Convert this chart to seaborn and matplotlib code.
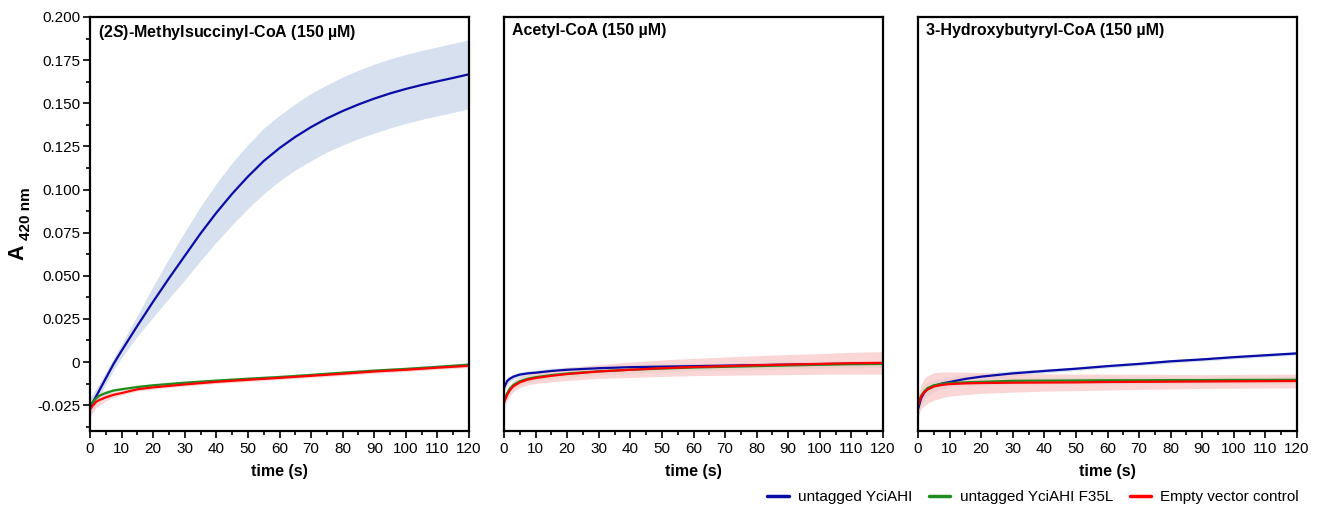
import numpy as np
import pandas as pd
import matplotlib
matplotlib.use('Agg')
import matplotlib.pyplot as plt
import seaborn as sns
from matplotlib.ticker import MultipleLocator, FuncFormatter

sns.set_style('ticks')
plt.rcParams['font.family'] = ['Liberation Sans', 'DejaVu Sans']
plt.rcParams['mathtext.fontset'] = 'custom'
plt.rcParams['mathtext.rm'] = 'Liberation Sans:bold'
plt.rcParams['mathtext.bf'] = 'Liberation Sans:bold'
plt.rcParams['mathtext.it'] = 'Liberation Sans:italic:bold'
for key in ['text.color', 'axes.labelcolor', 'xtick.color', 'ytick.color', 'axes.edgecolor']:
    plt.rcParams[key] = 'black'

# time points (s)
time = [0, 1, 2, 3, 5, 7.5, 10, 15, 20, 30, 40, 50, 60, 70, 80, 90, 100, 110, 120]
time_fine = [0, 1, 2, 3, 5, 7.5, 10, 15, 20, 25, 30, 35, 40, 45, 50, 55, 60, 65, 70,
             75, 80, 85, 90, 95, 100, 105, 110, 115, 120]

series_names = ['untagged YciAHI', 'untagged YciAHI F35L', 'Empty vector control']
series_colors = ['#0b0ba6', '#1e8c1e', '#ff0000']
band_colors = ['#c9d6ea', '#c9e3c9', '#f9c9c9']

panel_titles = [r'(2$\mathit{S}$)-Methylsuccinyl-CoA (150 µM)',
                'Acetyl-CoA (150 µM)',
                '3-Hydroxybutyryl-CoA (150 µM)']

# (2S)-Methylsuccinyl-CoA
msc_wt = [-0.0264, -0.023, -0.0197, -0.0163, -0.0095, -0.001, 0.0065, 0.021, 0.035, 0.0485,
          0.0615, 0.0745, 0.0865, 0.0975, 0.1075, 0.1165, 0.124, 0.1305, 0.1362, 0.1412,
          0.1455, 0.1493, 0.1527, 0.1557, 0.1583, 0.1606, 0.1627, 0.1647, 0.1668]
msc_wt_sd = [0.006, 0.005, 0.0045, 0.004, 0.0035, 0.0035, 0.004, 0.006, 0.009, 0.0115,
             0.014, 0.0157, 0.017, 0.018, 0.0185, 0.019, 0.019, 0.0192, 0.0195, 0.0195,
             0.0197, 0.0198, 0.02, 0.02, 0.02, 0.02, 0.02, 0.02, 0.02]
msc_f35l = [-0.025, -0.023, -0.021, -0.0195, -0.018, -0.0165, -0.0158, -0.0145, -0.0135, -0.012,
            -0.0108, -0.0097, -0.0087, -0.0075, -0.0062, -0.005, -0.004, -0.0028, -0.0015]
msc_f35l_sd = [0.003, 0.003, 0.002, 0.002, 0.0015, 0.001, 0.001, 0.001, 0.001, 0.001,
               0.001, 0.001, 0.001, 0.001, 0.001, 0.001, 0.001, 0.001, 0.001]
msc_ev = [-0.0275, -0.025, -0.023, -0.022, -0.0205, -0.019, -0.018, -0.0158, -0.0147, -0.013,
          -0.0115, -0.0103, -0.0092, -0.008, -0.0068, -0.0055, -0.0045, -0.0033, -0.0022]
msc_ev_sd = [0.004, 0.004, 0.003, 0.003, 0.002, 0.0015, 0.001, 0.001, 0.001, 0.001,
             0.001, 0.001, 0.001, 0.001, 0.001, 0.001, 0.001, 0.001, 0.001]

# Acetyl-CoA
ac_wt = [-0.015, -0.011, -0.0095, -0.0085, -0.0073, -0.0066, -0.0062, -0.0052, -0.0045, -0.0036,
         -0.003, -0.0027, -0.0024, -0.0021, -0.0018, -0.0015, -0.0012, -0.001, -0.0008]
ac_wt_sd = [0.002, 0.002, 0.0015, 0.0015, 0.0015, 0.0015, 0.0015, 0.0015, 0.0015, 0.0015,
            0.0015, 0.0015, 0.0015, 0.0015, 0.0015, 0.0015, 0.0015, 0.0015, 0.0015]
ac_f35l = [-0.0225, -0.018, -0.0152, -0.0133, -0.0112, -0.0097, -0.0088, -0.0076, -0.0067, -0.0054,
           -0.0045, -0.0038, -0.0032, -0.0028, -0.0024, -0.002, -0.0016, -0.0013, -0.0011]
ac_f35l_sd = [0.002, 0.002, 0.002, 0.002, 0.002, 0.002, 0.002, 0.002, 0.002, 0.002,
              0.002, 0.002, 0.002, 0.002, 0.002, 0.002, 0.002, 0.002, 0.002]
ac_ev = [-0.0235, -0.019, -0.016, -0.014, -0.0118, -0.0102, -0.0093, -0.008, -0.007, -0.0055,
         -0.0045, -0.0036, -0.0029, -0.0024, -0.0019, -0.0015, -0.0011, -0.0007, -0.0005]
ac_ev_sd = [0.003, 0.003, 0.003, 0.003, 0.003, 0.003, 0.0032, 0.0035, 0.0037, 0.004,
            0.0045, 0.0048, 0.005, 0.0053, 0.0056, 0.0058, 0.006, 0.0063, 0.0065]

# 3-Hydroxybutyryl-CoA
hb_wt = [-0.0274, -0.021, -0.0177, -0.0158, -0.0139, -0.0125, -0.0116, -0.0098, -0.0085, -0.0066,
         -0.0052, -0.0039, -0.0024, -0.0011, 0.0004, 0.0015, 0.0028, 0.0039, 0.005]
hb_wt_sd = [0.004, 0.004, 0.004, 0.004, 0.0035, 0.003, 0.003, 0.0025, 0.002, 0.0015,
            0.0012, 0.001, 0.001, 0.001, 0.001, 0.001, 0.001, 0.001, 0.001]
hb_f35l = [-0.025, -0.0195, -0.017, -0.0152, -0.0135, -0.0127, -0.0122, -0.0118, -0.0115, -0.0109,
           -0.0108, -0.0107, -0.0106, -0.0106, -0.0105, -0.0105, -0.0104, -0.0104, -0.0103]
hb_f35l_sd = [0.004, 0.004, 0.003, 0.003, 0.003, 0.002, 0.002, 0.002, 0.002, 0.002,
              0.002, 0.002, 0.002, 0.002, 0.002, 0.002, 0.002, 0.002, 0.002]
hb_ev = [-0.0255, -0.02, -0.0175, -0.016, -0.0142, -0.0133, -0.0128, -0.0124, -0.0122, -0.012,
         -0.0119, -0.0118, -0.0116, -0.0115, -0.0114, -0.0113, -0.0112, -0.0111, -0.011]
hb_ev_sd = [0.006, 0.007, 0.008, 0.008, 0.008, 0.0075, 0.007, 0.0065, 0.006, 0.0055,
            0.005, 0.0048, 0.0046, 0.0044, 0.0042, 0.004, 0.004, 0.004, 0.004]

panels = [
    [(time_fine, msc_wt, msc_wt_sd), (time, msc_f35l, msc_f35l_sd), (time, msc_ev, msc_ev_sd)],
    [(time, ac_wt, ac_wt_sd), (time, ac_f35l, ac_f35l_sd), (time, ac_ev, ac_ev_sd)],
    [(time, hb_wt, hb_wt_sd), (time, hb_f35l, hb_f35l_sd), (time, hb_ev, hb_ev_sd)],
]

W, H = 1322, 512
fig = plt.figure(figsize=(W / 100, H / 100), dpi=100)
lefts = [90 / W, 504 / W, 918 / W]
w = 379 / W
bottom = 1 - 431 / H
h = (431 - 17) / H

for i, (title, series) in enumerate(zip(panel_titles, panels)):
    ax = fig.add_axes([lefts[i], bottom, w, h])
    rows = []
    for name, (tt, mean, sd) in zip(series_names, series):
        rows.append(pd.DataFrame({'time': tt, 'A': mean, 'series': name}))
    df = pd.concat(rows, ignore_index=True)

    for k, (tt, mean, sd) in enumerate(series):
        m = np.array(mean)
        s = np.array(sd)
        ax.fill_between(tt, m - s, m + s, color=band_colors[k], alpha=0.75, lw=0)

    sns.lineplot(data=df, x='time', y='A', hue='series', hue_order=series_names,
                 palette=series_colors, linewidth=1.6, ax=ax, legend=False)

    ax.set_xlim(0, 120)
    ax.set_ylim(-0.04, 0.2)
    ax.xaxis.set_major_locator(MultipleLocator(10))
    ax.xaxis.set_minor_locator(MultipleLocator(5))
    ax.set_xlabel('time (s)', fontsize=11.5, fontweight='bold', labelpad=6)
    ax.tick_params(axis='x', which='major', length=5, width=1.2, labelsize=11, pad=3)
    ax.tick_params(axis='x', which='minor', length=3, width=1.2)
    if i == 0:
        ax.yaxis.set_major_locator(MultipleLocator(0.025))
        ax.yaxis.set_minor_locator(MultipleLocator(0.0125))
        ax.yaxis.set_major_formatter(FuncFormatter(lambda v, p: '0' if abs(v) < 1e-9 else f'{v:.3f}'))
        ax.tick_params(axis='y', which='major', length=5, width=1.2, labelsize=11, pad=2)
        ax.tick_params(axis='y', which='minor', length=3, width=1.2)
    else:
        ax.set_yticks([])
    ax.set_ylabel('')
    for sp in ax.spines.values():
        sp.set_linewidth(1.6)
    ax.text(0.022, 0.985, title, transform=ax.transAxes, ha='left', va='top',
            fontsize=11.5, fontweight='bold')

# y-axis label: A with subscript 420 nm
fig.text(17.5 / W, 1 - 252.5 / H, 'A', rotation=90, ha='center', va='center',
         fontsize=15.5, fontweight='bold')
fig.text(26.5 / W, 1 - 214 / H, '420 nm', rotation=90, ha='center', va='center',
         fontsize=11, fontweight='bold')

handles = [plt.Line2D([], [], color=c, lw=2.5) for c in series_colors]
fig.legend(handles, series_names, loc='lower right', bbox_to_anchor=(0.993, -0.012),
           ncol=3, frameon=False, fontsize=11, handlelength=1.4, columnspacing=1.1,
           handletextpad=0.6)

fig.savefig('out.png', dpi=100)
